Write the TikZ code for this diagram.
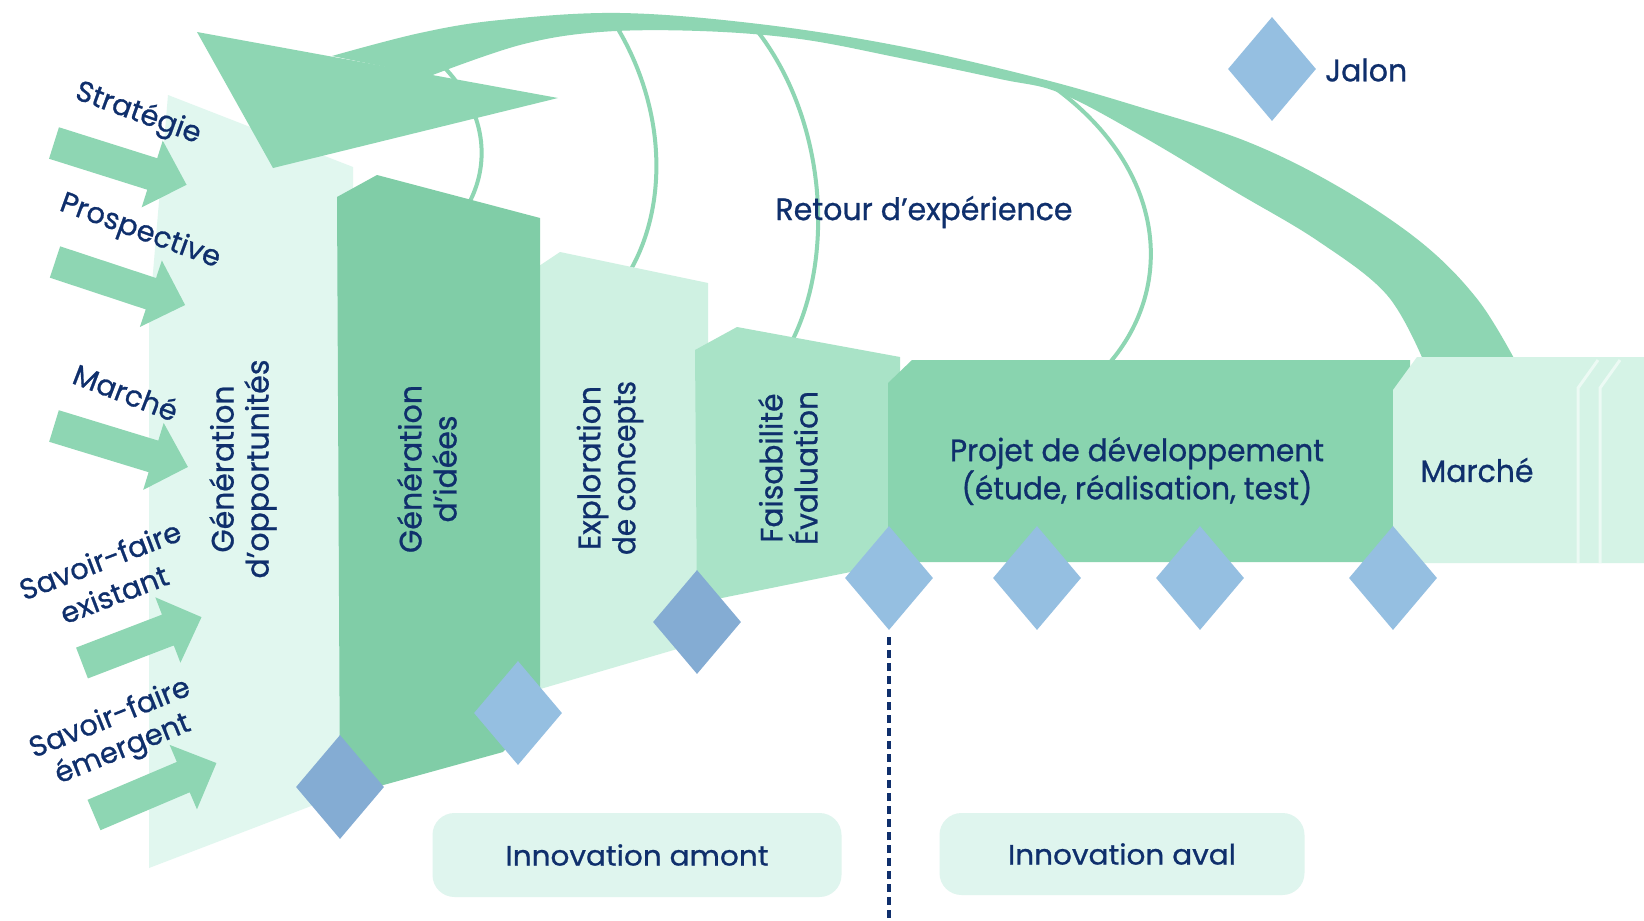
\documentclass[tikz,border=0pt]{standalone}
\usepackage{fontspec}
\setmainfont{Poppins}[FakeBold=0.8]
\usetikzlibrary{shapes.geometric}
\definecolor{navy}{HTML}{0F2F6C}
\definecolor{bandgreen}{HTML}{8ED6B3}
\definecolor{ideesgreen}{HTML}{80CDA7}
\definecolor{projetgreen}{HTML}{89D4AF}
\definecolor{faisgreen}{HTML}{A9E3C7}
\definecolor{explgreen}{HTML}{CFF1E2}
\definecolor{oppgreen}{HTML}{E1F7EF}
\definecolor{marchegreen}{HTML}{D5F3E6}
\definecolor{innovgreen}{HTML}{DFF5EE}
\definecolor{jalonblue}{HTML}{95BFE1}
\definecolor{jalondark}{HTML}{84ACD3}
\newsavebox\fitbox
\newlength\fitlen
\newcommand\fitw[2]{\sbox\fitbox{#2}\setlength\fitlen{\wd\fitbox}\pgfmathsetmacro\fitf{#1/\fitlen}\scalebox{\fitf}[1]{\usebox\fitbox}}
\tikzset{
  txt/.style={text=navy, inner sep=0pt, align=center, font=\fontsize{31}{35}\selectfont},
  sidetxt/.style={text=navy, inner sep=0pt, align=center, font=\fontsize{29}{37}\selectfont},
  jal/.style={shape=diamond, fill=jalonblue, draw=none, inner sep=0pt, minimum width=88pt, minimum height=104pt},
  feedback/.style={draw=bandgreen, line width=4pt},
  innov/.style={fill=innovgreen, rounded corners=22pt, inner sep=0pt, text=navy, font=\fontsize{28}{32}\selectfont},
  dashsep/.style={draw=navy, line width=3.5pt, dash pattern=on 8pt off 5pt},
}
\newcommand\inarrow[4]{%
  \fill[bandgreen, shift={(#1,#2)}, rotate=#3] (0,-16.5) -- ({#4-36},-16.5) -- ({#4-36},-35) -- (#4,0) -- ({#4-36},35) -- ({#4-36},16.5) -- (0,16.5) -- cycle;}
\begin{document}
\begin{tikzpicture}[x=1pt,y=-1pt]
\fill[white] (0,0) rectangle (1644,921);
\useasboundingbox (0,0) rectangle (1644,921);

% pale opportunities column
\fill[oppgreen] (168,95) -- (353,167) -- (353,790) -- (149,868) -- (149,320) -- cycle;

% feedback arcs
\draw[feedback] (443,66) .. controls (490,115) and (490,170) .. (465,210);
\draw[feedback] (615,24) .. controls (668,110) and (668,210) .. (627,276);
\draw[feedback] (755,28) .. controls (828,120) and (835,260) .. (790,345);
\draw[feedback] (1055,88) .. controls (1167,170) and (1177,290) .. (1105,368);

% big feedback band
\fill[bandgreen] plot[smooth, tension=0.6] coordinates {(332,56) (420,33) (500,20) (620,13) (759,24) (899,46) (1038,78) (1143,108) (1248,142) (1339,187) (1422,243) (1478,300) (1516,362)}
  -- plot[smooth, tension=0.6] coordinates {(1424,362) (1387,295) (1318,241) (1234,191) (1140,135) (1060,93) (1000,79) (900,58) (800,39) (700,31) (600,32) (520,45) (430,76)} -- cycle;
\fill[bandgreen] (197,32) -- (558,98) -- (273,168) -- cycle;

% columns
\fill[explgreen] (530,272) -- (560,252) -- (708,283) -- (708,640) -- (530,692) -- cycle;
\fill[faisgreen] (695,350) -- (737,327) -- (900,357) -- (900,562) -- (697,603) -- cycle;
\fill[ideesgreen] (337,197) -- (377,175) -- (540,218) -- (540,712) -- (503,752) -- (340,797) -- cycle;
\fill[projetgreen] (888,383) -- (912,360) -- (1410,360) -- (1410,562) -- (888,562) -- cycle;
\fill[marchegreen] (1393,390) -- (1417,357) -- (1644,357) -- (1644,563) -- (1393,563) -- cycle;
\draw[white!55!marchegreen, line width=3pt] (1578,563) -- (1578,388) -- (1598,360);
\draw[white!55!marchegreen, line width=3pt] (1600,563) -- (1600,388) -- (1620,360);

% input arrows
\inarrow{54}{143}{-17.5}{139}
\inarrow{55}{262}{-18.3}{137}
\inarrow{54}{426}{-17}{140}
\inarrow{82}{663}{21}{128}
\inarrow{94}{815}{23}{133}

% milestones
\node[jal, fill=jalondark] (j1) at (340,787) {};
\node[jal] (j2) at (518,713) {};
\node[jal, fill=jalondark] (j3) at (697,622) {};
\node[jal] (j4) at (889,578) {};
\node[jal] (j5) at (1037,578) {};
\node[jal] (j6) at (1200,578) {};
\node[jal] (j7) at (1393,578) {};
\node[jal] (jleg) at (1272,69) {};
\node[txt, anchor=west] (jalon) at (1325,70) {\fitw{82}{Jalon}};

% dashed separator
\coordinate (dbot) at (889,921);
\draw[dashsep] ([yshift=-7pt]j4.south) -- (dbot);

% input labels
\node[sidetxt, rotate=-20] (strat) at (138,114) {Stratégie};
\node[sidetxt, rotate=-20] (prosp) at (140,232) {Prospective};
\node[sidetxt, rotate=-21] (marche1) at (126,392) {Marché};
\node[sidetxt, rotate=21] (sfexa) at (100,560) {Savoir-faire};
\node[sidetxt, rotate=21] (sfexb) at (114,594) {existant};
\node[sidetxt, rotate=22] (sfema) at (109,716) {Savoir-faire};
\node[sidetxt, rotate=22] (sfemb) at (123,750) {émergent};

% stage labels
\node[txt, rotate=90] (opp) at (243,469) {\fitw{167}{Génération}\\\fitw{219}{d’opportunités}};
\node[txt, rotate=90] (idees) at (427,469) {\fitw{168}{Génération}\\\fitw{107}{d’idées}};
\node[txt, rotate=90] (expl) at (610,468) {\fitw{164}{Exploration}\\\fitw{174}{de concepts}};
\node[txt, rotate=90] (fais) at (788,468) {\fitw{149}{Faisabilité}\\\fitw{154}{Évaluation}};
\node[txt, font=\fontsize{31}{32}\selectfont] (projet) at (1137,471) {\fitw{374}{Projet de développement}\\\fitw{351}{(étude, réalisation, test)}};
\node[txt] (marche2) at (1477,470) {\fitw{113}{Marché}};
\node[txt] (retour) at (924,212) {\fitw{297}{Retour d’expérience}};

\node[innov, minimum width=409pt, minimum height=84pt] (amont) at (637,855) {\fitw{263}{Innovation amont}};
\node[innov, minimum width=365pt, minimum height=82pt] (aval) at (1122,854) {\fitw{228}{Innovation aval}};
\end{tikzpicture}
\end{document}
